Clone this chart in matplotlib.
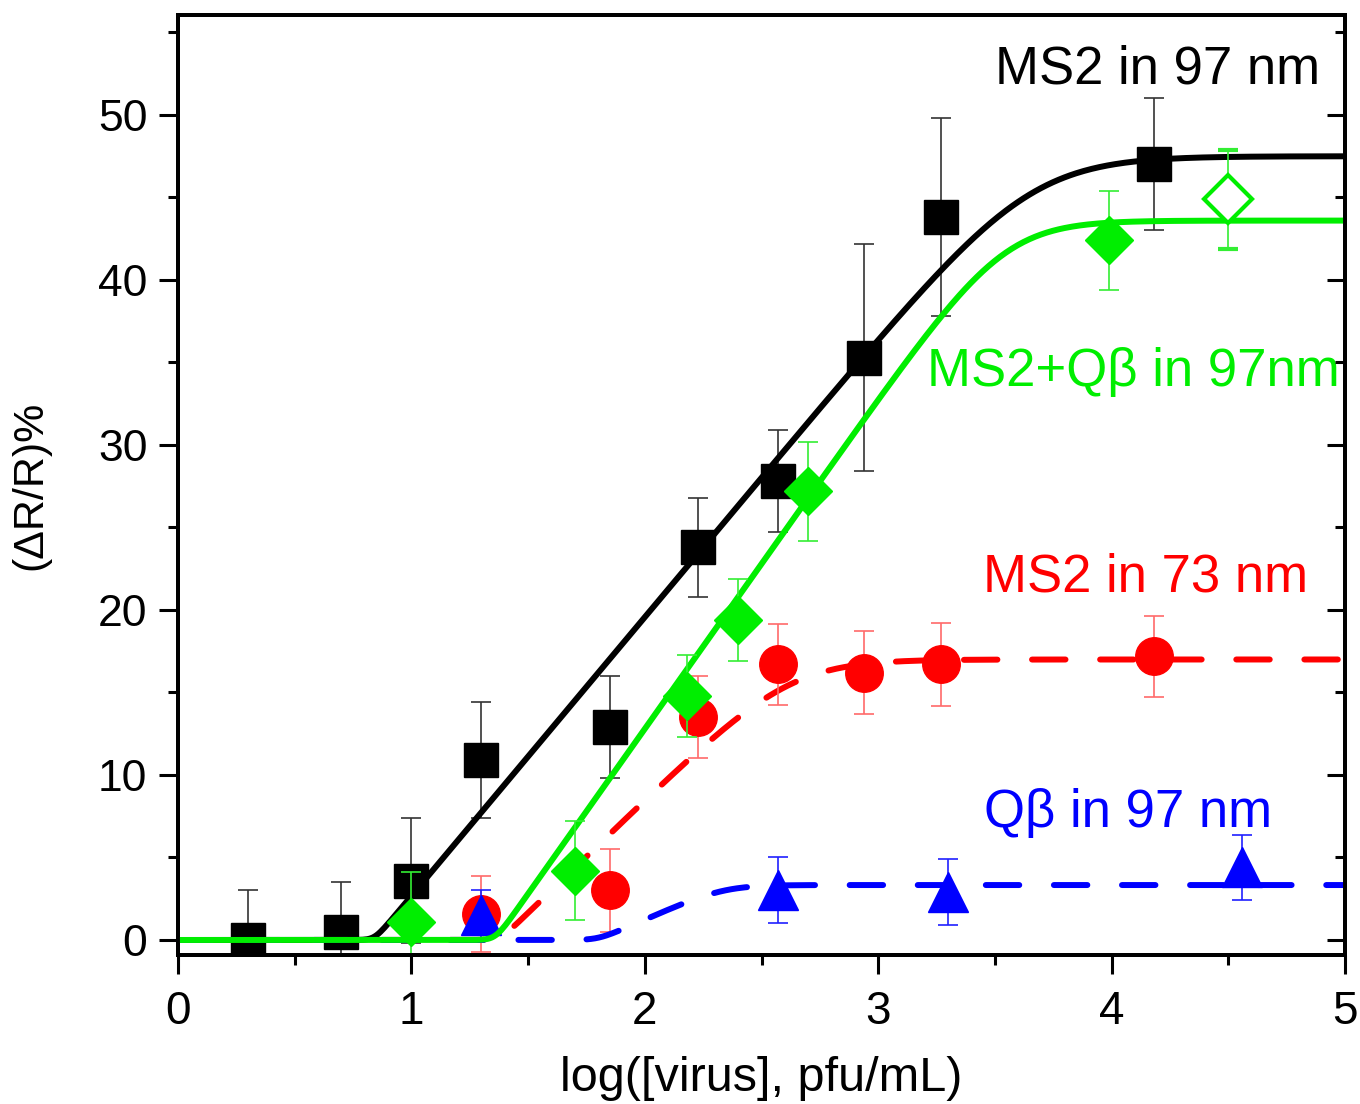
import numpy as np
import matplotlib
matplotlib.use('Agg')
import matplotlib.pyplot as plt
from matplotlib.ticker import MultipleLocator

plt.rcParams['font.family'] = ['Liberation Sans', 'DejaVu Sans']

# MS2 em 97 nm (quadrados pretos)
ms2_97_x = [0.30, 0.70, 1.00, 1.30, 1.85, 2.23, 2.57, 2.94, 3.27, 4.18]
ms2_97_y = [0.0, 0.5, 3.6, 10.9, 12.9, 23.8, 27.8, 35.3, 43.8, 47.0]
ms2_97_err = [3.0, 3.0, 3.8, 3.5, 3.1, 3.0, 3.1, 6.9, 6.0, 4.0]

# MS2+Qbeta em 97 nm (losangos verdes)
mix_x = [1.00, 1.70, 2.18, 2.40, 2.70, 3.99]
mix_y = [1.1, 4.2, 14.8, 19.4, 27.2, 42.4]
mix_err = [3.0, 3.0, 2.5, 2.5, 3.0, 3.0]
mix_open_x = [4.50]
mix_open_y = [44.9]
mix_open_err = [3.0]

# MS2 em 73 nm (circulos vermelhos)
ms2_73_x = [1.30, 1.85, 2.23, 2.57, 2.94, 3.27, 4.18]
ms2_73_y = [1.6, 3.0, 13.5, 16.7, 16.2, 16.7, 17.2]
ms2_73_err = [2.3, 2.5, 2.5, 2.45, 2.5, 2.5, 2.45]

# Qbeta em 97 nm (triangulos azuis)
qb_97_x = [1.30, 2.57, 3.30, 4.56]
qb_97_y = [1.5, 3.0, 2.9, 4.4]
qb_97_err = [1.5, 2.0, 2.0, 1.95]

# parametros dos ajustes: x0, inclinacao, plato, suavizacao topo, suavizacao base
fit_ms2_97 = [0.842, 16.9, 47.5, 3.3, 0.3]
fit_mix = [1.36, 20.0, 43.6, 2.9, 0.4]
fit_ms2_73 = [1.38, 13.7, 17.0, 2.2, 0.3]
fit_qb_97 = [1.80, 6.2, 3.33, 0.5, 0.2]


def fit_curve(x, x0, slope, plateau, w_top, w_bot):
    lin = slope * (x - x0)
    lo = w_bot * np.logaddexp(0, lin / w_bot)
    return -w_top * np.logaddexp(-lo / w_top, -plateau / w_top)


xf = np.linspace(0, 5, 600)

fig = plt.figure(figsize=(13.6, 11.04), dpi=100)
ax = fig.add_axes([178 / 1360, 1 - 955 / 1104, (1345 - 178) / 1360, (955 - 15) / 1104])

lw_fit = 4.3
dash = (0, (5.6, 5.8))

# curvas de ajuste
ax.plot(xf, fit_curve(xf, *fit_ms2_97), color='black', lw=lw_fit, zorder=4)
ax.plot(xf, fit_curve(xf, *fit_ms2_73), color='#ff0000', lw=lw_fit, linestyle=dash,
        dash_capstyle='round', zorder=5)
ax.plot(xf, fit_curve(xf, *fit_qb_97), color='#0000ff', lw=lw_fit, linestyle=dash,
        dash_capstyle='round', zorder=6)
ax.plot(xf, fit_curve(xf, *fit_mix), color='#00ee00', lw=lw_fit, zorder=8)

# pontos com barras de erro
ax.errorbar(ms2_97_x, ms2_97_y, yerr=ms2_97_err, fmt='s', color='black', ms=25,
            ecolor='#333333', elinewidth=1.2, capsize=7, capthick=1.2, zorder=3)
ax.errorbar(ms2_73_x, ms2_73_y, yerr=ms2_73_err, fmt='o', color='#ff0000', ms=27,
            ecolor='#ff6a6a', elinewidth=1.2, capsize=7, capthick=1.2, zorder=5)
ax.errorbar(qb_97_x, qb_97_y, yerr=qb_97_err, fmt='^', color='#0000ff', ms=29,
            ecolor='#2020ff', elinewidth=1.2, capsize=7, capthick=1.2, zorder=6)
ax.errorbar(mix_x, mix_y, yerr=mix_err, fmt='D', color='#00ee00', ms=24,
            ecolor='#33ee33', elinewidth=1.2, capsize=7, capthick=1.2, zorder=9)
ax.errorbar(mix_open_x, mix_open_y, yerr=mix_open_err, fmt='D', color='#00ee00', ms=24,
            mfc='white', mew=3, ecolor='#33ee33', elinewidth=1.2, capsize=7,
            capthick=1.2, zorder=9)

# rotulos das series
ax.text(4.893, 51.9, 'MS2 in 97 nm', color='black', fontsize=38, ha='right', va='baseline')
ax.text(4.979, 33.6, 'MS2+Qβ in 97nm', color='#00ee00', fontsize=38, ha='right', va='baseline')
ax.text(4.841, 21.15, 'MS2 in 73 nm', color='#ff0000', fontsize=38, ha='right', va='baseline')
ax.text(4.687, 6.85, 'Qβ in 97 nm', color='#0000ff', fontsize=38, ha='right', va='baseline')

ax.set_xlim(0, 5)
ax.set_ylim(-0.91, 56.06)
ax.xaxis.set_major_locator(MultipleLocator(1))
ax.xaxis.set_minor_locator(MultipleLocator(0.5))
ax.yaxis.set_major_locator(MultipleLocator(10))
ax.yaxis.set_minor_locator(MultipleLocator(5))
ax.set_yticks([0, 10, 20, 30, 40, 50])
ax.tick_params(axis='both', which='major', direction='out', length=14, width=2.2,
               labelsize=32)
ax.tick_params(axis='x', which='major', labelsize=33)
ax.tick_params(axis='both', which='minor', direction='out', length=7, width=2.2)
ax.tick_params(axis='x', pad=11)
ax.tick_params(axis='y', pad=8)

for sp in ax.spines.values():
    sp.set_linewidth(2.8)

# ticks internos no lado direito
ax2 = ax.twinx()
ax2.set_ylim(ax.get_ylim())
ax2.yaxis.set_major_locator(MultipleLocator(10))
ax2.yaxis.set_minor_locator(MultipleLocator(5))
ax2.tick_params(axis='y', which='major', direction='in', length=13, width=2.2, labelright=False)
ax2.tick_params(axis='y', which='minor', direction='in', length=7, width=2.2)
for sp in ax2.spines.values():
    sp.set_linewidth(2.8)

ax.set_xlabel('log([virus], pfu/mL)', fontsize=35, labelpad=16)
ax.set_ylabel('(ΔR/R)%', fontsize=31, labelpad=34)

plt.savefig('out.png', dpi=100)
